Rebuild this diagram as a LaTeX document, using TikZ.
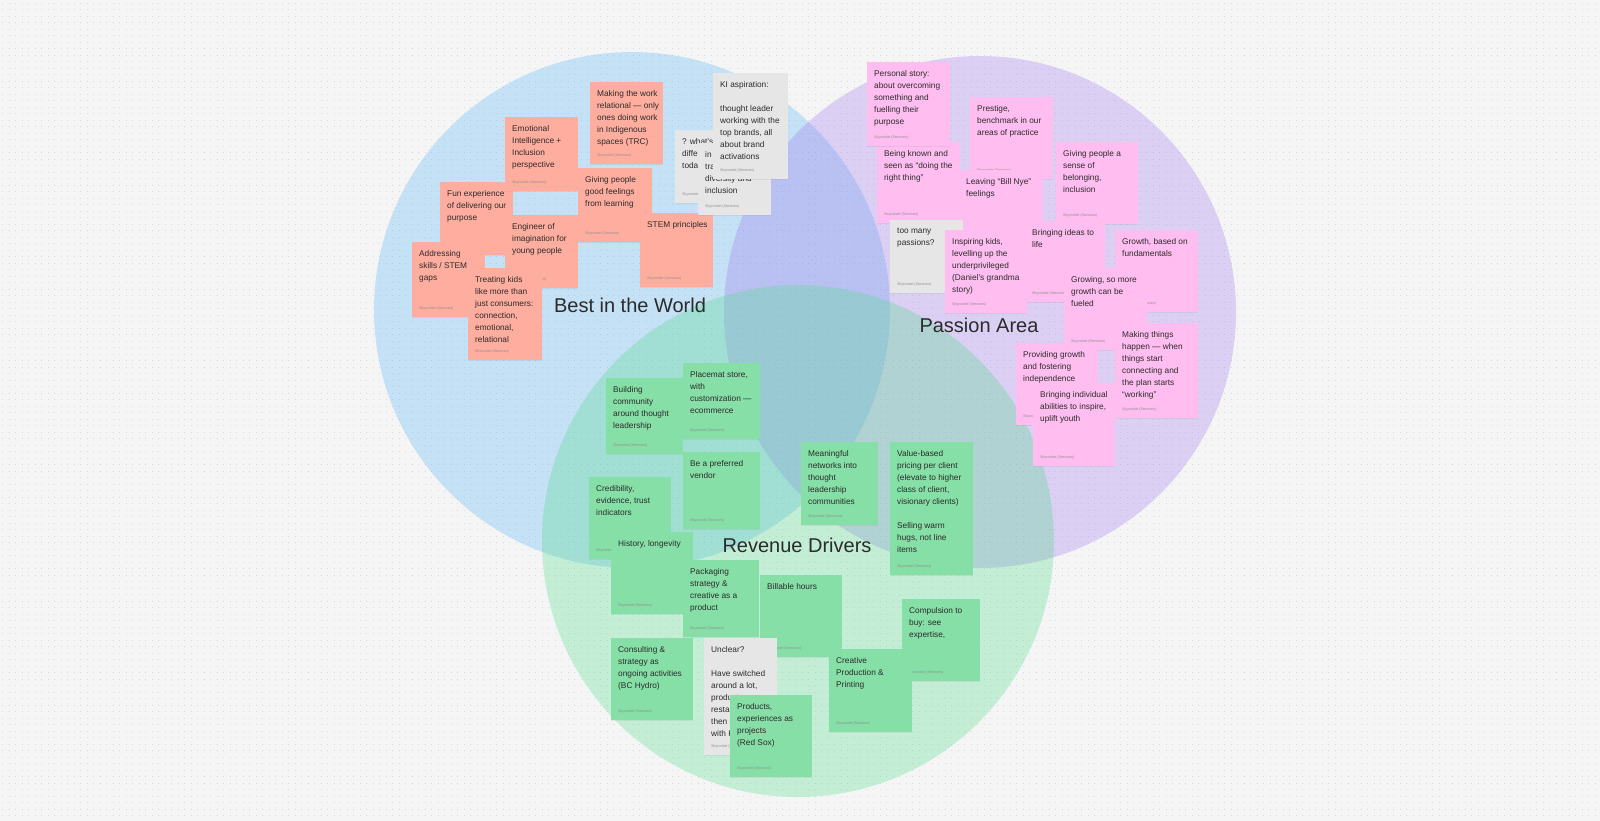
\documentclass[tikz,border=0pt]{standalone}
\usepackage{fontspec}
\setmainfont{Liberation Sans}
\usetikzlibrary{positioning,shadows}

\definecolor{canvas}{HTML}{F5F5F5}
\definecolor{griddot}{HTML}{DADADA}
\definecolor{bestblue}{RGB}{88,180,245}
\definecolor{passionviolet}{RGB}{160,120,240}
\definecolor{revgreen}{RGB}{80,220,140}
\definecolor{salmon}{HTML}{FFAD9E}
\definecolor{pinknote}{HTML}{FFBDF0}
\definecolor{greennote}{HTML}{86DFA6}
\definecolor{greynote}{HTML}{E6E6E6}
\definecolor{inktext}{HTML}{2B2B2B}
\definecolor{foottext}{HTML}{8E8E8E}

% one sticky note: name, colour, x, y, width, height, text
\newcommand{\sticky}[7]{%
  \node[note, fill=#2, minimum width=#5pt, minimum height=#6pt] (#1) at (#3,#4) {};
  \node[notetext] (#1-txt) at ([shift={(7pt,-8pt)}]#1.north west) {#7};
  \node[notefoot] (#1-ft) at ([shift={(7pt,7pt)}]#1.south west) {Skyrocket (Services)};}

\begin{document}
\begin{tikzpicture}[
    x=1pt, y=-1pt,
    area/.style={fill opacity=0.3},
    note/.style={rectangle, anchor=north west, inner sep=0pt,
      drop shadow={shadow xshift=0pt, shadow yshift=-1.2pt, opacity=0.12}},
    notetext/.style={anchor=north west, inner sep=0pt, align=left, text=inktext,
      font=\fontsize{8.3}{12}\selectfont},
    notefoot/.style={anchor=south west, inner sep=0pt, text=foottext,
      font=\fontsize{3.7}{4}\selectfont},
    title/.style={text=inktext, inner sep=0pt, font=\fontsize{20}{24}\selectfont}
]
    \useasboundingbox (0,0) rectangle (1600,821);
    \fill[canvas] (0,0) rectangle (1600,821);
    \foreach \r in {0,...,126}
      \draw[griddot, line width=0.8pt, dash pattern=on 0.8pt off 5.7pt, dash phase=-2pt]
        (0,\r*6.5+3) -- (1600,\r*6.5+3);

    % the three circles
    \fill[bestblue, area] (632,310) circle (258);
    \fill[passionviolet, area] (980,312) circle (256);
    \fill[revgreen, area] (798,541) circle (256);

    % best in the world
    \sticky{fun}{salmon}{440}{182}{73}{73}{Fun experience\\of delivering our\\purpose}
    \sticky{engineer}{salmon}{505}{215}{73}{73}{Engineer of\\imagination for\\young people}
    \sticky{emotional}{salmon}{505}{117}{73}{74}{Emotional\\Intelligence +\\Inclusion\\perspective}
    \sticky{making}{salmon}{590}{82}{73}{82}{Making the work\\relational — only\\ones doing work\\in Indigenous\\spaces (TRC)}
    \sticky{feelings}{salmon}{578}{168}{74}{74}{Giving people\\good feelings\\from learning}
    \sticky{stem}{salmon}{640}{213}{73}{74}{STEM principles}
    \sticky{addressing}{salmon}{412}{242}{73}{75}{Addressing\\skills / STEM\\gaps}
    \sticky{treating}{salmon}{468}{268}{74}{92}{Treating kids\\like more than\\just consumers:\\connection,\\emotional,\\relational}
    \sticky{whats}{greynote}{675}{130}{73}{73}{? what's the\\difference\\today}
    \sticky{diversity}{greynote}{698}{143}{73}{72}{in 2024\\trailblazing\\diversity and\\inclusion}
    \sticky{aspiration}{greynote}{713}{73}{75}{106}{KI aspiration:\\[12pt]thought leader\\working with the\\top brands, all\\about brand\\activations}

    % passion area
    \sticky{known}{pinknote}{877}{142}{83}{81}{Being known and\\seen as “doing the\\right thing”}
    \sticky{personal}{pinknote}{867}{62}{83}{84}{Personal story:\\about overcoming\\something and\\fuelling their\\purpose}
    \sticky{prestige}{pinknote}{970}{97}{83}{82}{Prestige,\\benchmark in our\\areas of practice}
    \sticky{billnye}{pinknote}{959}{170}{84}{82}{Leaving “Bill Nye”\\feelings}
    \sticky{belonging}{pinknote}{1056}{142}{82}{82}{Giving people a\\sense of\\belonging,\\inclusion}
    \sticky{passions}{greynote}{890}{220}{73}{73}{too many\\passions?}
    \sticky{ideas}{pinknote}{1025}{221}{80}{81}{Bringing ideas to\\life}
    \sticky{inspiring}{pinknote}{945}{230}{82}{83}{Inspiring kids,\\levelling up the\\underprivileged\\(Daniel’s grandma\\story)}
    \sticky{fundamentals}{pinknote}{1115}{230}{83}{82}{Growth, based on\\fundamentals}
    \sticky{growing}{pinknote}{1064}{268}{83}{82}{Growing, so more\\growth can be\\fueled}
    \sticky{happen}{pinknote}{1115}{323}{83}{95}{Making things\\happen — when\\things start\\connecting and\\the plan starts\\“working”}
    \sticky{independence}{pinknote}{1016}{343}{82}{82}{Providing growth\\and fostering\\independence}
    \sticky{uplift}{pinknote}{1033}{383}{82}{83}{Bringing individual\\abilities to inspire,\\uplift youth}

    % revenue drivers
    \sticky{community}{greennote}{606}{378}{77}{76}{Building\\community\\around thought\\leadership}
    \sticky{placemat}{greennote}{683}{363}{77}{76}{Placemat store,\\with\\customization —\\ecommerce}
    \sticky{vendor}{greennote}{683}{452}{77}{77}{Be a preferred\\vendor}
    \sticky{credibility}{greennote}{589}{477}{82}{82}{Credibility,\\evidence, trust\\indicators}
    \sticky{history}{greennote}{611}{532}{82}{82}{History, longevity}
    \sticky{packaging}{greennote}{683}{560}{76}{77}{Packaging\\strategy \&\\creative as a\\product}
    \sticky{billable}{greennote}{760}{575}{82}{82}{Billable hours}
    \sticky{networks}{greennote}{801}{442}{77}{83}{Meaningful\\networks into\\thought\\leadership\\communities}
    \sticky{pricing}{greennote}{890}{442}{83}{133}{Value-based\\pricing per client\\(elevate to higher\\class of client,\\visionary clients)\\[12pt]Selling warm\\hugs, not line\\items}
    \sticky{compulsion}{greennote}{902}{599}{78}{82}{Compulsion to\\buy: see\\expertise,}
    \sticky{printing}{greennote}{829}{649}{83}{83}{Creative\\Production \&\\Printing}
    \sticky{consulting}{greennote}{611}{638}{82}{82}{Consulting \&\\strategy as\\ongoing activities\\(BC Hydro)}
    \sticky{unclear}{greynote}{704}{638}{73}{117}{Unclear?\\[12pt]Have switched\\around a lot,\\products,\\restaurants,\\then consulting\\with KI}
    \sticky{projects}{greennote}{730}{695}{82}{82}{Products,\\experiences as\\projects\\(Red Sox)}

    % circle titles
    \node[title] (best) at (630,305) {Best in the World};
    \node[title] (passion) at (979,325) {Passion Area};
    \node[title] (revenue) at (797,545) {Revenue Drivers};
\end{tikzpicture}
\end{document}
